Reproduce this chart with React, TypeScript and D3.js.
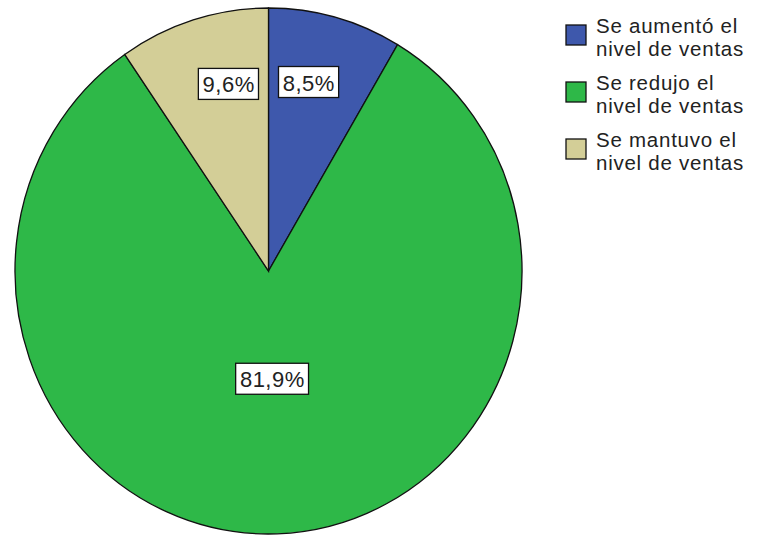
import React from "react";
import * as d3 from "d3";

const categories = [
  ["Se aumentó el", "nivel de ventas"],
  ["Se redujo el", "nivel de ventas"],
  ["Se mantuvo el", "nivel de ventas"],
];
const values = [8.5, 81.9, 9.6];
const valueLabels = ["8,5%", "81,9%", "9,6%"];
const colors = ["#3E58AC", "#2EB848", "#D3CE97"];

const W = 759;
const H = 537;
const cx = 268.5;
const cy = 271;
const rx = 253.5;
const ry = 263;
const FONT = "'Liberation Sans', Arial, sans-serif";
const FS = 22;
const LS = 0.5;
const LEG_FS = 20.5;

export default function App() {
  const pie = d3.pie<number>().sort(null).startAngle(0).endAngle(2 * Math.PI)(values);
  const arc = d3.arc<d3.PieArcDatum<number>>().innerRadius(0).outerRadius(rx);
  const sy = ry / rx;

  const boxW = (s: string) => {
    const widths: Record<string, number> = { ",": 0.278, "%": 0.889 };
    let w = 0;
    for (const ch of s) w += (widths[ch] ?? 0.556) * FS + LS;
    return w + 8;
  };
  const boxH = 31;

  const labels = pie.map((p, i) => {
    const mid = (p.startAngle + p.endAngle) / 2;
    const share = values[i] / d3.sum(values);
    const f = share > 0.5 ? 0.41 : 0.745;
    const y = cy - Math.cos(mid) * f * ry;
    const w = boxW(valueLabels[i]);
    let x;
    if (share > 0.5) {
      x = cx + Math.sin(mid) * f * rx;
    } else {
      const side = Math.sin(mid) >= 0 ? 1 : -1;
      x = cx + side * (w / 2 + 10);
    }
    return { x, y, w, text: valueLabels[i] };
  });

  const legendX = 566;
  const legendY0 = 33;
  const legendStep = 57;
  const lineH = 23;
  const sq = 20;

  return (
    <svg
      width={W}
      height={H}
      style={{ position: "absolute", left: 0, top: 0, background: "#fff" }}
    >
      <g transform={`translate(${cx},${cy}) scale(1,${sy})`}>
        {pie.map((p, i) => (
          <path
            key={i}
            d={arc(p) || ""}
            fill={colors[i]}
            stroke="#111"
            strokeWidth={1.3}
            vectorEffect="non-scaling-stroke"
          />
        ))}
      </g>
      {labels.map((l, i) => (
        <g key={i}>
          <rect
            x={l.x - l.w / 2}
            y={l.y - boxH / 2}
            width={l.w}
            height={boxH}
            fill="#fff"
            stroke="#111"
            strokeWidth={1.3}
          />
          <text
            x={l.x + LS / 2}
            y={l.y + 1}
            textAnchor="middle"
            dominantBaseline="central"
            fontFamily={FONT}
            fontSize={FS}
            letterSpacing={LS}
            fill="#222"
          >
            {l.text}
          </text>
        </g>
      ))}
      {categories.map((c, i) => {
        const y0 = legendY0 + i * legendStep;
        return (
          <g key={i}>
            <rect
              x={legendX}
              y={y0 - 8}
              width={sq}
              height={sq}
              fill={colors[i]}
              stroke="#111"
              strokeWidth={1.3}
            />
            {c.map((line, j) => (
              <text
                key={j}
                x={legendX + 30}
                y={y0 + j * lineH}
                fontFamily={FONT}
                fontSize={LEG_FS}
                letterSpacing={0.75}
                fill="#222"
              >
                {line}
              </text>
            ))}
          </g>
        );
      })}
    </svg>
  );
}
